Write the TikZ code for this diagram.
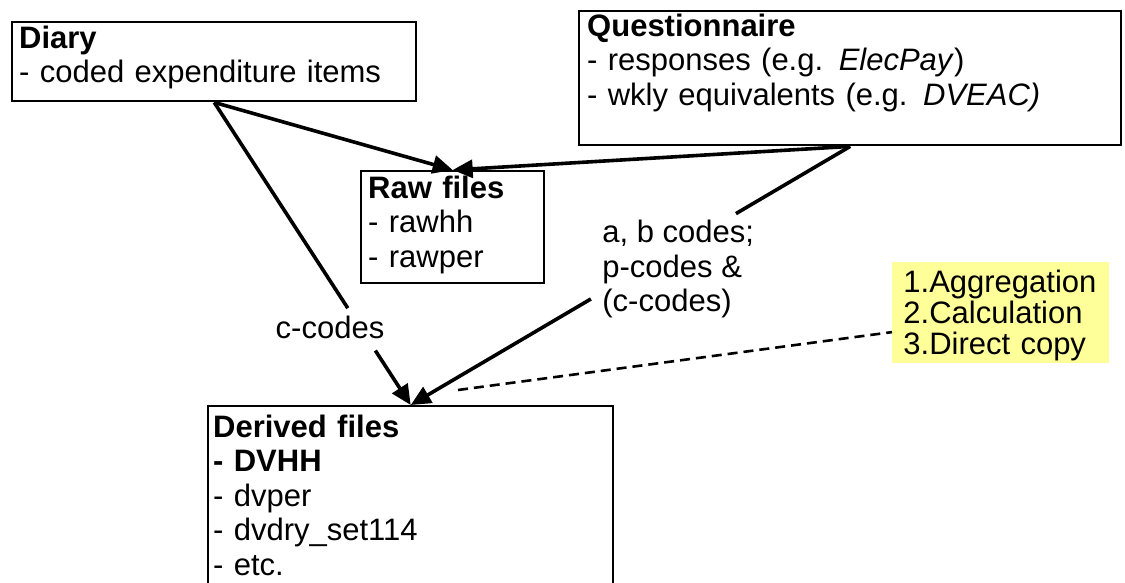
\documentclass[tikz,border=0pt]{standalone}
\usepackage{fontspec}
\setmainfont{Liberation Sans}
\usetikzlibrary{arrows.meta}
\definecolor{notebg}{RGB}{255,255,153}

\begin{document}
\begin{tikzpicture}[x=0.5pt,y=-0.5pt,
  font=\fontsize{15.5pt}{17.25pt}\selectfont,
  filebox/.style={draw,line width=1.2pt,anchor=north west,align=left,
    inner xsep=3.5pt,inner ysep=0pt},
  flow/.style={line width=1.8pt,-{Triangle[length=10pt,width=9pt]}},
  link/.style={line width=1.8pt}]
\clip (0,0) rectangle (1125,583);

% data sources and the files built from them
\node (diary) [filebox, text width=195pt, text height=13pt,
  text depth=26.5pt] at (11,21)
{\textbf{Diary}\\- coded expenditure items};
\node (questionnaire) [filebox, text width=263pt, text height=12.5pt,
  text depth=54.5pt, inner xsep=4pt] at (578,10)
{\textbf{Questionnaire}\\- responses (e.g. \textit{ElecPay})\\- wkly equivalents (e.g. \textit{DVEAC)}};
\node (rawFiles) [filebox, text width=84.5pt, text height=13.5pt,
  text depth=42.5pt] at (360,170)
{\textbf{Raw files}\\- rawhh\\- rawper};
\node (derivedFiles) [filebox, text width=197.5pt, text height=15.5pt,
  text depth=95pt, inner xsep=2.5pt] at (207,405)
{\textbf{Derived files}\\\textbf{- DVHH}\\- dvper\\- dvdry\_set114\\- etc.};
\node (methods) [anchor=north west, fill=notebg, align=left,
  inner xsep=5.5pt, inner ysep=0pt, text width=97.5pt,
  text height=15pt, text depth=35.5pt,
  font=\fontsize{15.5pt}{15.5pt}\selectfont] at (892,262)
{1.Aggregation\\2.Calculation\\3.Direct copy};

% labels on the links into the derived files
\node (cCodes) [anchor=base] at (330,338) {c-codes};
\node (abCodes) [anchor=north west, align=left, inner sep=0pt]
  at (602,220) {a, b codes;\\p-codes \&\\(c-codes)};

% gaps where the labels sit
\path (diary.south) -- (derivedFiles.north)
  coordinate[pos=.68] (cGapTop) coordinate[pos=.82] (cGapBottom);
\path (questionnaire.south) -- (derivedFiles.north)
  coordinate[pos=.26] (abGapTop) coordinate[pos=.59] (abGapBottom);

\draw [flow] (diary.south) -- (rawFiles.north);
\draw [flow] (questionnaire.south) -- (rawFiles.north);
\draw [link] (diary.south) -- (cGapTop);
\draw [flow] (cGapBottom) -- (derivedFiles.north);
\draw [link] (questionnaire.south) -- (abGapTop);
\draw [flow] (abGapBottom) -- (derivedFiles.north);

\coordinate (noteStart) at (458,390);
\draw [line width=1.3pt, dash pattern=on 5pt off 3pt] (noteStart) -- (methods.190);
\end{tikzpicture}
\end{document}
